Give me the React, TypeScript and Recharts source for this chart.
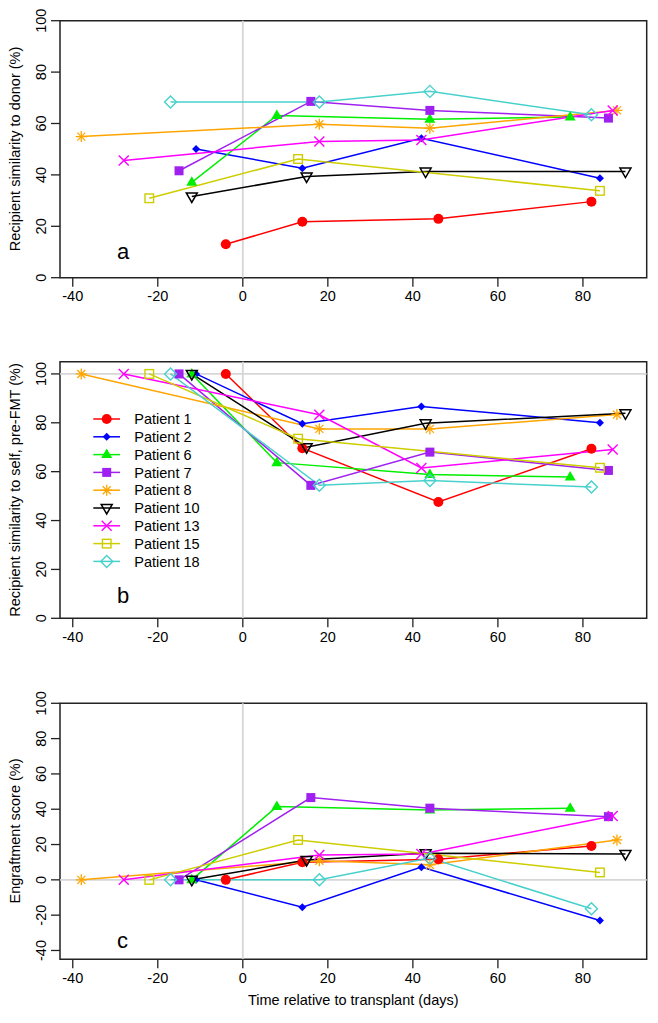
import React from "react";
import { LineChart, Line, XAxis, YAxis, ReferenceLine, ReferenceArea } from "recharts";

// days relative to transplant, per patient
const p1Days = [-4, 14, 46, 82];
const p2Days = [-11, 14, 42, 84];
const p6Days = [-12, 8, 44, 77];
const p7Days = [-15, 16, 44, 86];
const p8Days = [-38, 18, 44, 88];
const p10Days = [-12, 15, 43, 90];
const p13Days = [-28, 18, 42, 87];
const p15Days = [-22, 13, 84];
const p18Days = [-17, 18, 44, 82];

// panel a: similarity to donor (%)
const p1Donor = [13, 21.8, 22.9, 29.6];
const p2Donor = [50.1, 42.6, 54.3, 38.7];
const p6Donor = [37.1, 63.1, 61.7, 62.5];
const p7Donor = [41.6, 68.6, 65.1, 62.1];
const p8Donor = [54.9, 59.7, 58.2, 65.1];
const p10Donor = [31.6, 39.4, 41.3, 41.3];
const p13Donor = [45.6, 53, 53.6, 65.1];
const p15Donor = [30.9, 46.2, 33.8];
const p18Donor = [68.4, 68.4, 72.5, 63.4];

// panel b: similarity to self, pre-FMT (%)
const p1Self = [100, 69.6, 47.6, 69.4];
const p2Self = [100, 79.6, 86.7, 80];
const p6Self = [100, 63.7, 58.8, 57.8];
const p7Self = [100, 54.4, 68, 60.5];
const p8Self = [100, 77.5, 77.5, 83.4];
const p10Self = [100, 70, 79.8, 83.9];
const p13Self = [100, 83.3, 61.5, 69.1];
const p15Self = [100, 73.5, 61.6];
const p18Self = [100, 54.4, 56.4, 53.7];

// panel c: engraftment score (%)
const p1Engraft = [0, 10, 11.7, 19.2];
const p2Engraft = [0, -15.5, 7.2, -23];
const p6Engraft = [0, 41.5, 39.6, 40.6];
const p7Engraft = [0, 46.6, 40.6, 35.8];
const p8Engraft = [0, 10.8, 8.5, 22.6];
const p10Engraft = [0, 11.3, 15.1, 14.7];
const p13Engraft = [0, 14.1, 14.7, 36.2];
const p15Engraft = [0, 22.6, 4.2];
const p18Engraft = [0, 0, 12.3, -16.4];

const patientNames = ["Patient 1", "Patient 2", "Patient 6", "Patient 7", "Patient 8", "Patient 10", "Patient 13", "Patient 15", "Patient 18"];
const xTicks = [-40, -20, 0, 20, 40, 60, 80];
const yTicksAB = [0, 20, 40, 60, 80, 100];
const yTicksC = [-40, -20, 0, 20, 40, 60, 80, 100];

const colors = ["#FF0000", "#0000FF", "#00EE00", "#A020F0", "#FFA500", "#000000", "#FF00FF", "#CDCD00", "#48D1CC"];
const shapes = ["circle", "smallDiamond", "triangle", "square", "asterisk", "downTriangle", "cross", "openSquare", "openDiamond"];

const FONT = "'Liberation Sans', Arial, Helvetica, sans-serif";

const patients = [
  { days: p1Days, donor: p1Donor, self: p1Self, engraft: p1Engraft },
  { days: p2Days, donor: p2Donor, self: p2Self, engraft: p2Engraft },
  { days: p6Days, donor: p6Donor, self: p6Self, engraft: p6Engraft },
  { days: p7Days, donor: p7Donor, self: p7Self, engraft: p7Engraft },
  { days: p8Days, donor: p8Donor, self: p8Self, engraft: p8Engraft },
  { days: p10Days, donor: p10Donor, self: p10Self, engraft: p10Engraft },
  { days: p13Days, donor: p13Donor, self: p13Self, engraft: p13Engraft },
  { days: p15Days, donor: p15Donor, self: p15Self, engraft: p15Engraft },
  { days: p18Days, donor: p18Donor, self: p18Self, engraft: p18Engraft },
].map((p, i) => ({ ...p, name: patientNames[i], color: colors[i], shape: shapes[i] }));

const toRows = (days: number[], vals: number[]) => days.map((x, i) => ({ x, y: vals[i] }));

const Marker = ({ shape, cx, cy, color }: { shape: string; cx: number; cy: number; color: string }) => {
  switch (shape) {
    case "circle":
      return <circle cx={cx} cy={cy} r={5} fill={color} />;
    case "smallDiamond":
      return <polygon points={`${cx},${cy - 4} ${cx + 4},${cy} ${cx},${cy + 4} ${cx - 4},${cy}`} fill={color} />;
    case "triangle":
      return <polygon points={`${cx},${cy - 6} ${cx + 5.5},${cy + 3.5} ${cx - 5.5},${cy + 3.5}`} fill={color} />;
    case "square":
      return <rect x={cx - 4.5} y={cy - 4.5} width={9} height={9} fill={color} />;
    case "asterisk":
      return (
        <g stroke={color} strokeWidth={1.3}>
          <line x1={cx - 5.5} y1={cy} x2={cx + 5.5} y2={cy} />
          <line x1={cx} y1={cy - 5.5} x2={cx} y2={cy + 5.5} />
          <line x1={cx - 4} y1={cy - 4} x2={cx + 4} y2={cy + 4} />
          <line x1={cx - 4} y1={cy + 4} x2={cx + 4} y2={cy - 4} />
        </g>
      );
    case "downTriangle":
      return <polygon points={`${cx - 5.5},${cy - 3.5} ${cx + 5.5},${cy - 3.5} ${cx},${cy + 6}`} fill="none" stroke={color} strokeWidth={1.5} />;
    case "cross":
      return (
        <g stroke={color} strokeWidth={1.4}>
          <line x1={cx - 5} y1={cy - 5} x2={cx + 5} y2={cy + 5} />
          <line x1={cx - 5} y1={cy + 5} x2={cx + 5} y2={cy - 5} />
        </g>
      );
    case "openSquare":
      return <rect x={cx - 4.3} y={cy - 4.3} width={8.6} height={8.6} fill="none" stroke={color} strokeWidth={1.4} />;
    case "openDiamond":
      return <polygon points={`${cx},${cy - 6} ${cx + 6},${cy} ${cx},${cy + 6} ${cx - 6},${cy}`} fill="none" stroke={color} strokeWidth={1.4} />;
    default:
      return null;
  }
};

const YTick = (props: any) => {
  const { y, payload } = props;
  return (
    <text x={41} y={y} transform={`rotate(-90 41 ${y})`} textAnchor="middle" dy="0.35em" fontSize={14.5} fill="#000" fontFamily={FONT}>
      {payload.value}
    </text>
  );
};

interface PanelProps {
  top: number;
  height: number;
  marginTop: number;
  marginBottom: number;
  yDomain: [number, number];
  yTicks: number[];
  field: "donor" | "self" | "engraft";
  hLine?: number;
}

const Panel = ({ top, height, marginTop, marginBottom, yDomain, yTicks, field, hLine }: PanelProps) => (
  <div style={{ position: "absolute", left: 0, top, width: 658, height }}>
    <LineChart width={658} height={height} margin={{ top: marginTop, right: 11.3, bottom: marginBottom, left: 0 }}>
      <XAxis
        type="number"
        dataKey="x"
        domain={[-43, 95]}
        ticks={xTicks}
        allowDataOverflow
        axisLine={false}
        tickLine={{ stroke: "#222", strokeWidth: 1.3 }}
        tickSize={9}
        tickMargin={4}
        height={30}
        tick={{ fontSize: 14.5, fill: "#000", fontFamily: FONT }}
      />
      <YAxis
        type="number"
        dataKey="y"
        domain={yDomain}
        ticks={yTicks}
        allowDataOverflow
        axisLine={false}
        tickLine={{ stroke: "#222", strokeWidth: 1.3 }}
        tickSize={9}
        width={60}
        tick={<YTick />}
      />
      <ReferenceLine x={0} stroke="#d6d6d6" strokeWidth={1.8} />
      {hLine !== undefined && <ReferenceLine y={hLine} stroke="#d6d6d6" strokeWidth={1.8} />}
      {patients.map((p) => (
        <Line
          key={p.name}
          data={toRows(p.days, p[field])}
          dataKey="y"
          type="linear"
          stroke={p.color}
          strokeWidth={1.5}
          isAnimationActive={false}
          activeDot={false}
          dot={(d: any) => <Marker key={`${p.name}-${d.index}`} shape={p.shape} cx={d.cx} cy={d.cy} color={p.color} />}
        />
      ))}
      <ReferenceArea x1={-43} x2={95} y1={yDomain[0]} y2={yDomain[1]} fill="none" stroke="#222" strokeWidth={1.5} ifOverflow="visible" />
    </LineChart>
  </div>
);

const LegendBox = () => (
  <svg style={{ position: "absolute", left: 85, top: 405 }} width={130} height={170}>
    {patients.map((p, i) => {
      const y = 14 + i * 17.8;
      return (
        <g key={p.name}>
          <line x1={8.3} x2={35} y1={y} y2={y} stroke={p.color} strokeWidth={1.5} />
          <Marker shape={p.shape} cx={21.7} cy={y} color={p.color} />
          <text x={49.3} y={y} dy="0.36em" fontSize={14.5} fill="#000" fontFamily={FONT}>
            {p.name}
          </text>
        </g>
      );
    })}
  </svg>
);

const Overlay = () => (
  <svg style={{ position: "absolute", left: 0, top: 0, pointerEvents: "none" }} width={658} height={1023}>
    <g fontFamily={FONT} fill="#000">
      <text x={15} y={149} transform="rotate(-90 15 149)" textAnchor="middle" dy="0.35em" fontSize={14.5}>
        Recipient similarity to donor (%)
      </text>
      <text x={15} y={490} transform="rotate(-90 15 490)" textAnchor="middle" dy="0.35em" fontSize={14.5}>
        Recipient similarity to self, pre-FMT (%)
      </text>
      <text x={15} y={831} transform="rotate(-90 15 831)" textAnchor="middle" dy="0.35em" fontSize={14.5}>
        Engraftment score (%)
      </text>
      <text x={353.3} y={1005} textAnchor="middle" fontSize={14.5}>
        Time relative to transplant (days)
      </text>
      <text x={117} y={259} fontSize={22}>a</text>
      <text x={117} y={603} fontSize={22}>b</text>
      <text x={117} y={948} fontSize={22}>c</text>
    </g>
  </svg>
);

export default function App() {
  return (
    <div style={{ position: "absolute", left: 0, top: 0, width: 658, height: 1023, background: "#fff", fontFamily: FONT }}>
      <Panel top={0} height={310} marginTop={20.7} marginBottom={2.3} yDomain={[0, 100]} yTicks={yTicksAB} field="donor" />
      <Panel top={340} height={310.3} marginTop={21.7} marginBottom={2} yDomain={[0, 105]} yTicks={yTicksAB} field="self" hLine={100} />
      <Panel top={680} height={311.3} marginTop={23.3} marginBottom={2} yDomain={[-45, 100]} yTicks={yTicksC} field="engraft" hLine={0} />
      <LegendBox />
      <Overlay />
    </div>
  );
}
